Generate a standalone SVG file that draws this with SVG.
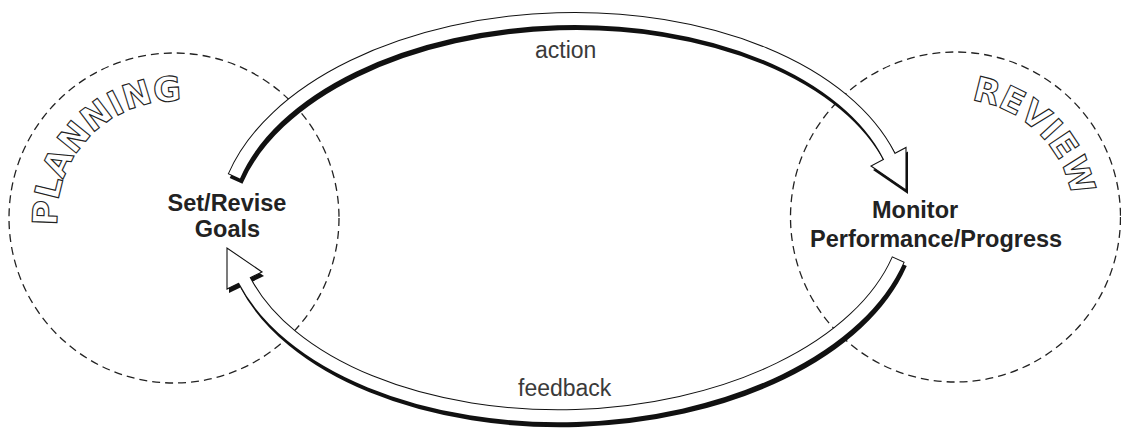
<svg xmlns="http://www.w3.org/2000/svg" width="1121" height="428" viewBox="0 0 1121 428">
<defs>
<style>
.ring{fill:none;stroke:#222;stroke-width:1.3;stroke-dasharray:8 5}
.stage{font-family:"DejaVu Sans",sans-serif;font-weight:bold;font-size:34px;fill:#fff;stroke:#222;stroke-width:1.1}
.node{font-family:"Liberation Sans",Arial,Helvetica,sans-serif;font-weight:bold;font-size:23.5px;fill:#222}
.lbl{font-family:"Liberation Sans",Arial,Helvetica,sans-serif;font-size:23px;fill:#3a3a3a}
.sh{fill:none;stroke:#111;stroke-width:14}
.shf{fill:#111;stroke:none}
.ol{fill:none;stroke:#111;stroke-width:14}
.wt{fill:none;stroke:#fff;stroke-width:12}
.hd{fill:#fff;stroke:#111;stroke-width:1.1;stroke-linejoin:miter}
</style>
<path id="pPlan" d="M 72.7 276.5 A 117 117 0 0 1 232.5 116.7"/>
<path id="pRev" d="M 894.7 115.9 A 118 118 0 0 1 1058.7 274.2"/>
</defs>
<rect width="1121" height="428" fill="#fff"/>

<g id="planning">
<circle class="ring" cx="174" cy="218" r="165"/>
<text class="stage"><textPath href="#pPlan" startOffset="50%" text-anchor="middle">PLANNING</textPath></text>
</g>

<g id="review">
<circle class="ring" cx="955.5" cy="217" r="165"/>
<text class="stage"><textPath href="#pRev" startOffset="50%" text-anchor="middle">REVIEW</textPath></text>
</g>

<g id="connectors">
<g id="action-arrow">
<g transform="translate(2,4)">
<path class="sh" d="M 234.1 176.9 L 234.5 176 A 340 201 -1.75 0 1 889 156"/>
<polygon class="shf" points="871,166 906,190 906,147.5"/>
</g>
<path class="ol" d="M 234.1 176.9 L 234.5 176 A 340 201 -1.75 0 1 889 156"/>
<polygon class="hd" points="871,166 906,190 906,147.5"/>
<path class="wt" d="M 234.5 176 A 340 201 -1.75 0 1 889 156 L 889.7 157.3"/>
</g>
<g id="feedback-arrow">
<g transform="translate(2,4)">
<path class="sh" d="M 898.4 259.1 L 898 260 A 340 201 -1.75 0 1 244.5 280.5"/>
<polygon class="shf" points="227,289 227,248 262,272"/>
</g>
<path class="ol" d="M 898.4 259.1 L 898 260 A 340 201 -1.75 0 1 244.5 280.5"/>
<polygon class="hd" points="227,289 227,248 262,272"/>
<path class="wt" d="M 898 260 A 340 201 -1.75 0 1 244.5 280.5 L 243.8 279.2"/>
</g>
<text class="lbl" x="535" y="58">action</text>
<text class="lbl" x="518" y="396">feedback</text>
</g>

<g id="set-revise-goals">
<text class="node" x="227" y="211" text-anchor="middle">Set/Revise</text>
<text class="node" x="227.5" y="237" text-anchor="middle">Goals</text>
</g>

<g id="monitor-performance">
<text class="node" x="872" y="218">Monitor</text>
<text class="node" x="810" y="247">Performance/Progress</text>
</g>
</svg>
